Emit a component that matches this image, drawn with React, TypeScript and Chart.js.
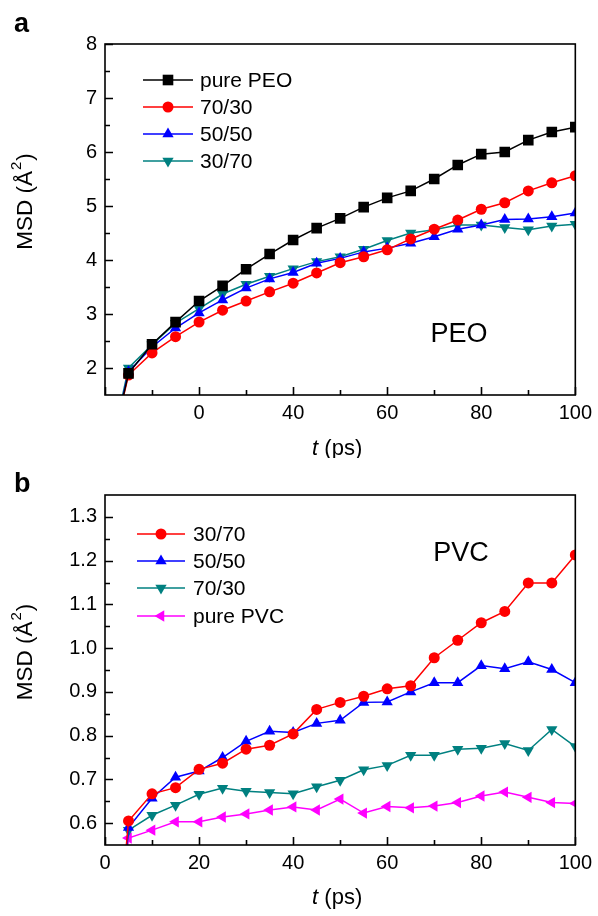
import React, { useEffect, useRef } from "react";
import { Chart, registerables } from "chart.js";
Chart.register(...registerables);

// ---------------- data ----------------
const times = [0, 5, 10, 15, 20, 25, 30, 35, 40, 45, 50, 55, 60, 65, 70, 75, 80, 85, 90, 95, 100];

// panel a (PEO)
const peoPure = [0, 1.9, 2.44, 2.85, 3.24, 3.52, 3.83, 4.11, 4.37, 4.59, 4.77, 4.98, 5.15, 5.28, 5.5, 5.76, 5.96, 6.0, 6.22, 6.37, 6.46];
const peo7030 = [0, 1.87, 2.28, 2.58, 2.85, 3.07, 3.24, 3.41, 3.57, 3.76, 3.95, 4.06, 4.19, 4.39, 4.57, 4.74, 4.94, 5.06, 5.28, 5.43, 5.56];
const peo5050 = [0, 1.93, 2.39, 2.74, 3.02, 3.26, 3.48, 3.65, 3.77, 3.94, 4.03, 4.15, 4.22, 4.31, 4.43, 4.57, 4.65, 4.75, 4.76, 4.8, 4.87];
const peo3070 = [0, 2.0, 2.43, 2.83, 3.1, 3.37, 3.55, 3.7, 3.84, 3.97, 4.06, 4.2, 4.36, 4.5, 4.56, 4.65, 4.65, 4.6, 4.56, 4.63, 4.66];

// panel b (PVC)
const pvc3070 = [0, 0.605, 0.667, 0.681, 0.723, 0.737, 0.769, 0.778, 0.804, 0.86, 0.876, 0.89, 0.907, 0.914, 0.978, 1.018, 1.058, 1.084, 1.149, 1.149, 1.213];
const pvc5050 = [0, 0.59, 0.657, 0.705, 0.719, 0.75, 0.787, 0.81, 0.807, 0.828, 0.835, 0.876, 0.877, 0.9, 0.921, 0.921, 0.96, 0.953, 0.969, 0.951, 0.921];
const pvc7030 = [0, 0.584, 0.618, 0.641, 0.666, 0.68, 0.673, 0.67, 0.667, 0.683, 0.698, 0.722, 0.732, 0.755, 0.755, 0.769, 0.771, 0.782, 0.766, 0.814, 0.775];
const pvcPure = [0, 0.566, 0.584, 0.603, 0.603, 0.614, 0.621, 0.63, 0.637, 0.63, 0.655, 0.623, 0.638, 0.635, 0.639, 0.647, 0.662, 0.671, 0.659, 0.647, 0.645];

// ticks
const topXTicks = [0, 20, 40, 60, 80, 100];
const topXTickLabels = ["", "0", "40", "60", "80", "100"];
const topXMinor = [10, 30, 50, 70, 90];
const topYTicks = [2, 3, 4, 5, 6, 7, 8];
const topYTickLabels = ["2", "3", "4", "5", "6", "7", "8"];
const topYMinor = [2.5, 3.5, 4.5, 5.5, 6.5, 7.5];

const botXTicks = [0, 20, 40, 60, 80, 100];
const botXTickLabels = ["0", "20", "40", "60", "80", "100"];
const botXMinor = [10, 30, 50, 70, 90];
const botYTicks = [0.6, 0.7, 0.8, 0.9, 1.0, 1.1, 1.2, 1.3];
const botYTickLabels = ["0.6", "0.7", "0.8", "0.9", "1.0", "1.1", "1.2", "1.3"];
const botYMinor = [0.65, 0.75, 0.85, 0.95, 1.05, 1.15, 1.25];

const FONT = '"Liberation Sans", Arial, Helvetica, sans-serif';

type Series = {
  label: string;
  data: number[];
  color: string;
  style: "rect" | "circle" | "triangle";
  rotation: number;
  radius: number;
};

const topSeries: Series[] = [
  { label: "pure PEO", data: peoPure, color: "#000000", style: "rect", rotation: 0, radius: 7.5 },
  { label: "70/30", data: peo7030, color: "#ff0000", style: "circle", rotation: 0, radius: 5.5 },
  { label: "50/50", data: peo5050, color: "#0000ff", style: "triangle", rotation: 0, radius: 6.5 },
  { label: "30/70", data: peo3070, color: "#008080", style: "triangle", rotation: 180, radius: 6.5 },
];

const botSeries: Series[] = [
  { label: "30/70", data: pvc3070, color: "#ff0000", style: "circle", rotation: 0, radius: 5.5 },
  { label: "50/50", data: pvc5050, color: "#0000ff", style: "triangle", rotation: 0, radius: 6.5 },
  { label: "70/30", data: pvc7030, color: "#008080", style: "triangle", rotation: 180, radius: 6.5 },
  { label: "pure PVC", data: pvcPure, color: "#ff00ff", style: "triangle", rotation: 270, radius: 6.5 },
];

function drawMarker(ctx: CanvasRenderingContext2D, s: Series, x: number, y: number) {
  ctx.save();
  ctx.fillStyle = s.color;
  ctx.beginPath();
  const r = s.radius;
  if (s.style === "rect") {
    const h = r * Math.SQRT1_2;
    ctx.rect(x - h, y - h, 2 * h, 2 * h);
  } else if (s.style === "circle") {
    ctx.arc(x, y, r, 0, Math.PI * 2);
  } else {
    let rad = (s.rotation * Math.PI) / 180;
    ctx.moveTo(x + Math.sin(rad) * r, y - Math.cos(rad) * r);
    rad += (2 * Math.PI) / 3;
    ctx.lineTo(x + Math.sin(rad) * r, y - Math.cos(rad) * r);
    rad += (2 * Math.PI) / 3;
    ctx.lineTo(x + Math.sin(rad) * r, y - Math.cos(rad) * r);
    ctx.closePath();
  }
  ctx.fill();
  ctx.restore();
}

type PanelCfg = {
  series: Series[];
  xTicks: number[];
  xTickLabels: string[];
  xMinor: number[];
  yTicks: number[];
  yTickLabels: string[];
  yMinor: number[];
  yMin: number;
  yMax: number;
  padTop: number;
  padRight: number;
  xAxisHeight: number;
  letter: string;
  letterY: number;
  legend: { lineX0: number; lineX1: number; textX: number; rows: number[] };
  note: { text: string; x: number; y: number };
  xTitleY: number;
};

function makePlugin(cfg: PanelCfg) {
  return {
    id: "decor",
    afterDraw(chart: any) {
      const ctx: CanvasRenderingContext2D = chart.ctx;
      const { left, right, top, bottom } = chart.chartArea;
      const xs = chart.scales.x;
      const ys = chart.scales.y;
      ctx.save();
      ctx.strokeStyle = "#000";
      ctx.lineWidth = 1.6;
      // ticks
      ctx.beginPath();
      cfg.xTicks.forEach((v) => {
        const px = Math.round(xs.getPixelForValue(v)) + 0.5;
        ctx.moveTo(px, bottom);
        ctx.lineTo(px, bottom - 8);
      });
      cfg.xMinor.forEach((v) => {
        const px = Math.round(xs.getPixelForValue(v)) + 0.5;
        ctx.moveTo(px, bottom);
        ctx.lineTo(px, bottom - 5);
      });
      cfg.yTicks.forEach((v) => {
        const py = Math.round(ys.getPixelForValue(v)) + 0.5;
        ctx.moveTo(left, py);
        ctx.lineTo(left + 8, py);
      });
      cfg.yMinor.forEach((v) => {
        const py = Math.round(ys.getPixelForValue(v)) + 0.5;
        ctx.moveTo(left, py);
        ctx.lineTo(left + 5, py);
      });
      ctx.stroke();
      // frame
      ctx.strokeRect(left, top, right - left, bottom - top);

      // legend
      const lg = cfg.legend;
      cfg.series.forEach((s, i) => {
        const y = lg.rows[i];
        ctx.strokeStyle = s.color;
        ctx.lineWidth = 1.5;
        ctx.beginPath();
        ctx.moveTo(lg.lineX0, y);
        ctx.lineTo(lg.lineX1, y);
        ctx.stroke();
        drawMarker(ctx, s, (lg.lineX0 + lg.lineX1) / 2, y);
        ctx.fillStyle = "#000";
        ctx.font = `21px ${FONT}`;
        ctx.textAlign = "left";
        ctx.textBaseline = "middle";
        ctx.fillText(s.label, lg.textX, y + 1);
      });

      // note text
      ctx.fillStyle = "#000";
      ctx.font = `27px ${FONT}`;
      ctx.textAlign = "center";
      ctx.textBaseline = "middle";
      ctx.fillText(cfg.note.text, cfg.note.x, cfg.note.y);

      // panel letter
      ctx.font = `bold 27px ${FONT}`;
      ctx.textAlign = "left";
      ctx.textBaseline = "alphabetic";
      ctx.fillText(cfg.letter, 14, cfg.letterY);

      // x title: italic t + " (ps)"
      ctx.textBaseline = "middle";
      ctx.textAlign = "left";
      const f1 = `italic 22px ${FONT}`;
      const f2 = `22px ${FONT}`;
      ctx.font = f1;
      const w1 = ctx.measureText("t").width;
      ctx.font = f2;
      const w2 = ctx.measureText(" (ps)").width;
      const cx = (left + right) / 2 - 3;
      let sx = cx - (w1 + w2) / 2;
      ctx.font = f1;
      ctx.fillText("t", sx, cfg.xTitleY);
      ctx.font = f2;
      ctx.fillText(" (ps)", sx + w1, cfg.xTitleY);

      // y title rotated: MSD (Å²)
      ctx.save();
      ctx.translate(26, (top + bottom) / 2 - 18);
      ctx.rotate(-Math.PI / 2);
      const fm = `22.5px ${FONT}`;
      const fs = `15px ${FONT}`;
      ctx.font = fm;
      const a = "MSD (\u00C5";
      const wa = ctx.measureText(a).width;
      const wc = ctx.measureText(")").width;
      ctx.font = fs;
      const wb = ctx.measureText("2").width + 2;
      let tx = -(wa + wb + wc) / 2;
      ctx.textBaseline = "middle";
      ctx.font = fm;
      ctx.fillText(a, tx, 0);
      ctx.font = fs;
      ctx.fillText("2", tx + wa + 1, -9);
      ctx.font = fm;
      ctx.fillText(")", tx + wa + wb, 0);
      ctx.restore();

      ctx.restore();
    },
  };
}

function Panel({ cfg, width, height }: { cfg: PanelCfg; width: number; height: number }) {
  const ref = useRef<HTMLCanvasElement>(null);
  useEffect(() => {
    if (!ref.current) return;
    const chart = new Chart(ref.current, {
      type: "line",
      data: {
        datasets: cfg.series.map((s) => ({
          label: s.label,
          data: s.data.map((v, i) => ({ x: times[i], y: v })),
          borderColor: s.color,
          backgroundColor: s.color,
          borderWidth: 1.5,
          pointStyle: s.style,
          rotation: s.rotation,
          pointRadius: s.radius,
          pointBorderWidth: 0,
          pointBackgroundColor: s.color,
          pointBorderColor: s.color,
          tension: 0,
          fill: false,
          clip: 0,
        })),
      },
      options: {
        responsive: false,
        animation: false,
        events: [],
        layout: { padding: { top: cfg.padTop, right: cfg.padRight, bottom: 0, left: 0 } },
        plugins: { legend: { display: false }, tooltip: { enabled: false } },
        scales: {
          x: {
            type: "linear",
            min: 0,
            max: 100,
            grid: { display: false, drawTicks: false },
            border: { display: false },
            afterBuildTicks: (sc: any) => {
              sc.ticks = cfg.xTicks.map((v) => ({ value: v }));
            },
            afterFit: (sc: any) => {
              sc.height = cfg.xAxisHeight;
            },
            ticks: {
              autoSkip: false,
              maxRotation: 0,
              padding: 6,
              color: "#000",
              font: { family: FONT, size: 20 },
              callback: (_v: any, i: number) => cfg.xTickLabels[i],
            },
          },
          y: {
            type: "linear",
            min: cfg.yMin,
            max: cfg.yMax,
            grid: { display: false, drawTicks: false },
            border: { display: false },
            afterBuildTicks: (sc: any) => {
              sc.ticks = cfg.yTicks.map((v) => ({ value: v }));
            },
            afterFit: (sc: any) => {
              sc.width = 105;
            },
            ticks: {
              autoSkip: false,
              padding: 8,
              color: "#000",
              font: { family: FONT, size: 20 },
              callback: (_v: any, i: number) => cfg.yTickLabels[i],
            },
          },
        },
      },
      plugins: [makePlugin(cfg)],
    } as any);
    return () => chart.destroy();
  }, []);
  return <canvas ref={ref} width={width} height={height} style={{ display: "block", width, height }} />;
}

const topCfg: PanelCfg = {
  series: topSeries,
  xTicks: topXTicks,
  xTickLabels: topXTickLabels,
  xMinor: topXMinor,
  yTicks: topYTicks,
  yTickLabels: topYTickLabels,
  yMinor: topYMinor,
  yMin: 1.5,
  yMax: 8,
  padTop: 44,
  padRight: 19,
  xAxisHeight: 63,
  letter: "a",
  letterY: 32,
  legend: { lineX0: 143, lineX1: 193, textX: 200, rows: [80, 107, 134, 161] },
  note: { text: "PEO", x: 459, y: 335 },
  xTitleY: 449,
};

const botCfg: PanelCfg = {
  series: botSeries,
  xTicks: botXTicks,
  xTickLabels: botXTickLabels,
  xMinor: botXMinor,
  yTicks: botYTicks,
  yTickLabels: botYTickLabels,
  yMinor: botYMinor,
  yMin: 0.55,
  yMax: 1.35,
  padTop: 37,
  padRight: 21,
  xAxisHeight: 71,
  letter: "b",
  letterY: 34,
  legend: { lineX0: 137, lineX1: 185, textX: 193, rows: [76, 103, 130, 158] },
  note: { text: "PVC", x: 461, y: 96 },
  xTitleY: 440,
};

export default function App() {
  return (
    <div style={{ position: "absolute", left: 0, top: 0, width: 598, height: 916, background: "#fff" }}>
      <Panel cfg={topCfg} width={598} height={458} />
      <Panel cfg={botCfg} width={598} height={458} />
    </div>
  );
}
